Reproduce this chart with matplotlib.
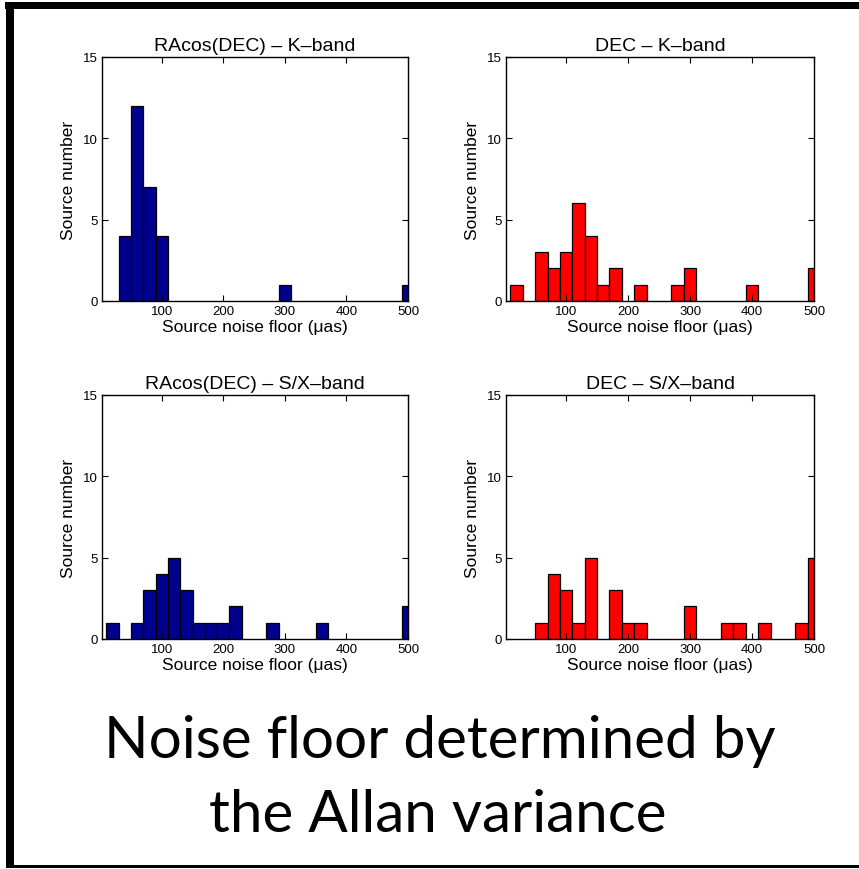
import matplotlib as mpl
mpl.use('Agg')
import matplotlib.pyplot as plt
from matplotlib.patches import Rectangle

# histogram data: bin centres (uas) and source counts, bin width 20
ra_k_centres = [40, 60, 80, 100, 300, 500]
ra_k_counts = [4, 12, 7, 4, 1, 1]

dec_k_centres = [20, 60, 80, 100, 120, 140, 160, 180, 220, 280, 300, 400, 500]
dec_k_counts = [1, 3, 2, 3, 6, 4, 1, 2, 1, 1, 2, 1, 2]

ra_sx_centres = [20, 60, 80, 100, 120, 140, 160, 180, 200, 220, 280, 360, 500]
ra_sx_counts = [1, 1, 3, 4, 5, 3, 1, 1, 1, 2, 1, 1, 2]

dec_sx_centres = [60, 80, 100, 120, 140, 180, 200, 220, 300, 360, 380, 420, 480, 500]
dec_sx_counts = [1, 4, 3, 1, 5, 3, 1, 1, 2, 1, 1, 1, 1, 5]

titles = ['RAcos(DEC) \u2013 K\u2013band', 'DEC \u2013 K\u2013band',
          'RAcos(DEC) \u2013 S/X\u2013band', 'DEC \u2013 S/X\u2013band']
xticks = [100, 200, 300, 400, 500]
yticks = [0, 5, 10, 15]
bin_width = 20

navy = '#00008F'
red = '#FF0000'

W, H = 859, 870
fig = plt.figure(figsize=(W / 100, H / 100), dpi=100, facecolor='white')
plt.rcParams['font.family'] = ['Liberation Sans', 'DejaVu Sans']


def px_axes(x0, y0, x1, y1):
    return fig.add_axes([x0 / W, 1 - y1 / H, (x1 - x0) / W, (y1 - y0) / H])


panels = [
    (px_axes(102, 58, 408, 302), ra_k_centres, ra_k_counts, navy),
    (px_axes(506, 58, 814, 302), dec_k_centres, dec_k_counts, red),
    (px_axes(102, 396, 408, 640), ra_sx_centres, ra_sx_counts, navy),
    (px_axes(506, 396, 814, 640), dec_sx_centres, dec_sx_counts, red),
]

for (ax, centres, counts, col), title in zip(panels, titles):
    ax.bar(centres, counts, width=bin_width, color=col, edgecolor='black', linewidth=0.9)
    ax.set_xlim(3, 500)
    ax.set_ylim(0, 15)
    ax.set_xticks(xticks)
    ax.set_yticks(yticks)
    ax.tick_params(direction='in', top=True, right=True, length=4, width=0.8,
                   labelsize=9.5, pad=3)
    for sp in ax.spines.values():
        sp.set_linewidth(1.0)
    ax.set_title(title, fontsize=14, pad=5)
    ax.set_xlabel('Source noise floor (\u03bcas)', fontsize=12.5, labelpad=1)
    ax.set_ylabel('Source number', fontsize=12.5, labelpad=5)

# slide caption
fig.text(440 / W, 1 - 742 / H, 'Noise floor determined by', ha='center', va='center',
         fontsize=42, family=['Lato', 'DejaVu Sans'])
fig.text(438 / W, 1 - 816 / H, 'the Allan variance', ha='center', va='center',
         fontsize=42, family=['Lato', 'DejaVu Sans'])

# slide frame: thick top and left, thin bottom
def px_rect(x0, y0, x1, y1):
    fig.add_artist(Rectangle((x0 / W, 1 - y1 / H), (x1 - x0) / W, (y1 - y0) / H,
                             transform=fig.transFigure, facecolor='black',
                             edgecolor='none'))

px_rect(5, 3, W, 10)
px_rect(6, 3, 14, 869)
px_rect(6, 866, W, 869)

plt.savefig('out.png', dpi=100, facecolor=fig.get_facecolor())
